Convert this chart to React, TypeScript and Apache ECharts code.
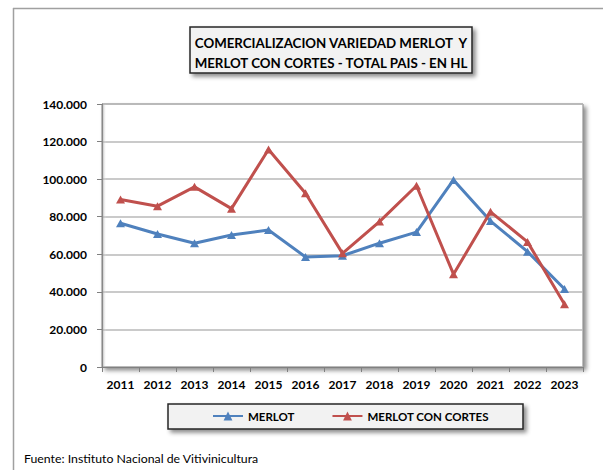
import React, { useEffect, useRef } from "react";
import * as echarts from "echarts";

const years = ["2011", "2012", "2013", "2014", "2015", "2016", "2017", "2018", "2019", "2020", "2021", "2022", "2023"];
const merlot = [76500, 70800, 65900, 70300, 72900, 58600, 59200, 65900, 71800, 99600, 77700, 61400, 41500];
const merlotConCortes = [89200, 85600, 95900, 84300, 115800, 92500, 60500, 77400, 96500, 49400, 82600, 66600, 33400];
const titleLines = ["COMERCIALIZACION VARIEDAD MERLOT  Y", "MERLOT CON CORTES - TOTAL PAIS - EN HL"];
const seriesNames = ["MERLOT", "MERLOT CON CORTES"];
const sourceText = "Fuente: Instituto Nacional de Vitivinicultura";

const FONT = "Lato, 'Open Sans', sans-serif";
const BLUE = "#4f81bd";
const RED = "#c0504d";

export default function App() {
  const ref = useRef<HTMLDivElement>(null);
  useEffect(() => {
    if (!ref.current) return;
    const chart = echarts.init(ref.current, undefined, { renderer: "svg" });
    chart.setOption({
      animation: false,
      backgroundColor: "#ffffff",
      textStyle: { fontFamily: FONT },
      grid: {
        left: 102,
        top: 104,
        right: 20,
        bottom: 103,
        show: true,
        backgroundColor: "#ffffff",
        borderColor: "#7f7f7f",
        borderWidth: 1,
        shadowColor: "rgba(0,0,0,0.45)",
        shadowBlur: 4,
        shadowOffsetX: 3,
        shadowOffsetY: 3,
      },
      legend: {
        left: 212,
        top: 410,
        itemWidth: 30,
        itemHeight: 11,
        itemGap: 37,
        padding: 0,
        textStyle: { fontFamily: FONT, fontWeight: "bold", fontSize: 11.5, color: "#000" },
        data: seriesNames,
      },
      xAxis: {
        type: "category",
        data: years,
        boundaryGap: true,
        axisLine: { lineStyle: { color: "#808080", width: 1 } },
        axisTick: { show: true, length: 5, lineStyle: { color: "#808080" } },
        axisLabel: { fontFamily: FONT, fontWeight: "bold", fontSize: 12, color: "#000", margin: 11 },
      },
      yAxis: {
        type: "value",
        min: 0,
        max: 140000,
        interval: 20000,
        axisLine: { show: true, lineStyle: { color: "#808080", width: 1 } },
        axisTick: { show: true, length: 5, lineStyle: { color: "#808080" } },
        splitLine: { lineStyle: { color: "#b8b8b8", width: 1.5 } },
        axisLabel: {
          fontFamily: FONT,
          fontWeight: "bold",
          fontSize: 12,
          color: "#000",
          margin: 15,
          formatter: (v: number) => (v === 0 ? "0" : `${v / 1000}.000`),
        },
      },
      series: [
        {
          name: seriesNames[0],
          type: "line",
          data: merlot,
          symbol: "triangle",
          symbolSize: [9, 8],
          lineStyle: { color: BLUE, width: 3 },
          itemStyle: { color: BLUE },
          z: 3,
        },
        {
          name: seriesNames[1],
          type: "line",
          data: merlotConCortes,
          symbol: "triangle",
          symbolSize: [9, 8],
          lineStyle: { color: RED, width: 3 },
          itemStyle: { color: RED },
          z: 4,
        },
      ],
      graphic: [
        { type: "line", shape: { x1: 13.5, y1: 8, x2: 13.5, y2: 470 }, style: { stroke: "#a0a0a0", lineWidth: 1.5 }, z: -1 },
        { type: "line", shape: { x1: 13, y1: 8.5, x2: 603, y2: 8.5 }, style: { stroke: "#a0a0a0", lineWidth: 1.5 }, z: -1 },
        {
          type: "rect",
          shape: { x: 102.5, y: 104.5, width: 4, height: 262 },
          style: {
            fill: new echarts.graphic.LinearGradient(0, 0, 1, 0, [
              { offset: 0, color: "rgba(150,150,150,0.7)" },
              { offset: 1, color: "rgba(255,255,255,0)" },
            ]),
          },
          z: 1,
        },
        {
          type: "rect",
          shape: { x: 190, y: 27, width: 282, height: 46 },
          style: {
            fill: "#f2f2f2",
            stroke: "#262626",
            lineWidth: 1.5,
            shadowColor: "rgba(0,0,0,0.45)",
            shadowBlur: 4,
            shadowOffsetX: 3,
            shadowOffsetY: 3,
          },
        },
        {
          type: "text",
          x: 331,
          y: 43,
          style: { text: titleLines[0], fill: "#000", font: `bold 13.3px ${FONT}`, align: "center", verticalAlign: "middle" },
        },
        {
          type: "text",
          x: 331,
          y: 63,
          style: { text: titleLines[1], fill: "#000", font: `bold 13.3px ${FONT}`, align: "center", verticalAlign: "middle" },
        },
        {
          type: "rect",
          shape: { x: 168, y: 404, width: 355, height: 25 },
          style: {
            fill: "#f2f2f2",
            stroke: "#262626",
            lineWidth: 1.5,
            shadowColor: "rgba(0,0,0,0.45)",
            shadowBlur: 4,
            shadowOffsetX: 3,
            shadowOffsetY: 3,
          },
          z: -1,
        },
        {
          type: "text",
          x: 24,
          y: 458,
          style: { text: sourceText, fill: "#000", font: `12.3px ${FONT}`, verticalAlign: "middle" },
        },
      ],
    });
    return () => chart.dispose();
  }, []);
  return <div ref={ref} style={{ position: "fixed", left: 0, top: 0, width: 603, height: 470 }} />;
}
